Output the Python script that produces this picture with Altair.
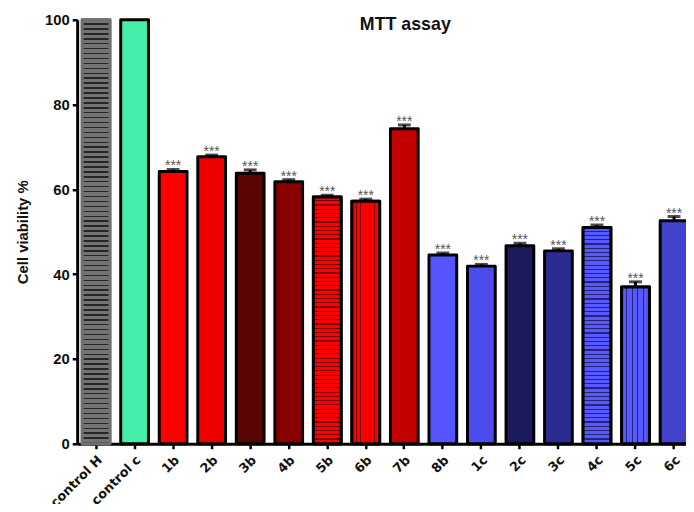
import altair as alt
import pandas as pd

labels = ["control H", "control c", "1b", "2b", "3b", "4b", "5b", "6b", "7b",
          "8b", "1c", "2c", "3c", "4c", "5c", "6c"]
values = [100, 100, 64.2, 67.7, 63.8, 61.8, 58.2, 57.2, 74.3,
          44.5, 41.9, 46.7, 45.5, 51.0, 37.0, 52.6]
errors = [0, 0, 0.5, 0.4, 0.8, 0.5, 0.4, 0.5, 0.9,
          0.5, 0.4, 0.6, 0.5, 0.6, 1.2, 1.0]
stars = ["", ""] + ["***"] * 14
fills = ["#6a6a6a", "#44eeaa", "#ff0000", "#ee0000", "#5a0505", "#8a0000",
         "#c80000", "#d80000", "#c40000", "#5555ff", "#4c4cee", "#1c1c5c",
         "#2c2c90", "#4a4ae0", "#5050f2", "#4242cc"]
strokes = ["#707070"] + ["#000000"] * 15

# stripe styling for some bars: (label, direction, stripes, base colour, line colour, line share)
stripe_styles = [
    ("control H", "h", 86, "#747474", "#262626", 0.3),
    ("5b", "h", 58, "#ff0000", "#7a0000", 0.28),
    ("6b", "v", 6, "#ff0000", "#700000", 0.22),
    ("4c", "h", 51, "#5858ff", "#24247a", 0.28),
    ("5c", "v", 5, "#5858ff", "#24247a", 0.2),
]

df = pd.DataFrame({"label": labels, "value": values, "err": errors, "stars": stars})
df["top"] = df["value"] + df["err"]

xscale = alt.Scale(domain=labels, paddingInner=0.28, paddingOuter=0.13)
x = alt.X("label:N", sort=labels, title=None, scale=xscale,
          axis=alt.Axis(labelAngle=-45, labelAlign="right", labelBaseline="middle",
                        labelFont="DejaVu Sans", labelFontWeight="bold", labelFontSize=13,
                        labelColor="#111", labelPadding=9, domainWidth=3, domainColor="#000",
                        tickWidth=2.5, tickColor="#000", tickSize=5, labelOverlap=False,
                        labelOffset=4))
y = alt.Y("value:Q", title="Cell viability %",
          scale=alt.Scale(domain=[0, 100], nice=False),
          axis=alt.Axis(values=[0, 20, 40, 60, 80, 100], grid=False,
                        labelFont="Liberation Sans", labelFontWeight="bold", labelFontSize=15,
                        labelColor="#111", labelPadding=3, domainWidth=3, domainColor="#000",
                        tickWidth=2.5, tickColor="#000", tickSize=5,
                        titleFont="Liberation Sans", titleFontWeight="bold", titleFontSize=15,
                        titleColor="#111", titlePadding=14))

base = alt.Chart(df)

bars = base.mark_bar(strokeWidth=3, strokeJoin="round").encode(
    x=x, y=y,
    fill=alt.Fill("label:N", scale=alt.Scale(domain=labels, range=fills), legend=None),
    stroke=alt.Stroke("label:N", scale=alt.Scale(domain=labels, range=strokes), legend=None),
)


def stripes(n, c0, c1, frac):
    stops = []
    for i in range(n):
        a = i / n
        b = (i + 1 - frac) / n
        c = (i + 1) / n
        stops += [alt.GradientStop(offset=a, color=c0), alt.GradientStop(offset=b, color=c0),
                  alt.GradientStop(offset=b, color=c1), alt.GradientStop(offset=c, color=c1)]
    return stops


pattern_layers = []
for lab, d, n, c0, c1, fr in stripe_styles:
    if d == "h":
        grad = alt.LinearGradient(gradient="linear", stops=stripes(n, c0, c1, fr), x1=0, y1=0, x2=0, y2=1)
    else:
        grad = alt.LinearGradient(gradient="linear", stops=stripes(n, c0, c1, fr), x1=0, y1=0, x2=1, y2=0)
    sc = "#707070" if lab == "control H" else "#000000"
    pattern_layers.append(
        base.transform_filter(alt.datum.label == lab)
        .mark_bar(fill=grad, stroke=sc, strokeWidth=3, strokeJoin="round")
        .encode(x=alt.X("label:N", sort=labels, scale=xscale), y="value:Q")
    )

errs = base.transform_filter("datum.err > 0").mark_rule(color="#000", strokeWidth=3).encode(
    x=alt.X("label:N", sort=labels), y="value:Q", y2="top:Q")

caps = base.transform_filter("datum.err > 0").mark_tick(
    color="#000", thickness=3, size=13, orient="horizontal").encode(
    x=alt.X("label:N", sort=labels), y="top:Q")

txt = base.mark_text(color="#555", fontSize=14, baseline="alphabetic", dy=1,
                     font="Liberation Sans").encode(
    x=alt.X("label:N", sort=labels), y="top:Q", text="stars:N")

title_df = pd.DataFrame({"t": ["MTT assay"]})
title = alt.Chart(title_df).mark_text(
    font="Liberation Sans", fontSize=18, fontWeight="bold", color="#111",
    align="center", baseline="middle").encode(
    x=alt.value(332), y=alt.value(5), text="t:N")

chart = alt.layer(bars, *pattern_layers, errs, caps, txt, title).properties(
    width=623, height=429,
    autosize=alt.AutoSizeParams(type="none"),
    padding={"left": 70, "top": 9, "right": -7, "bottom": 58},
).configure_view(stroke=None)

chart.save("out.html", embed_options={"renderer": "svg", "actions": False})
